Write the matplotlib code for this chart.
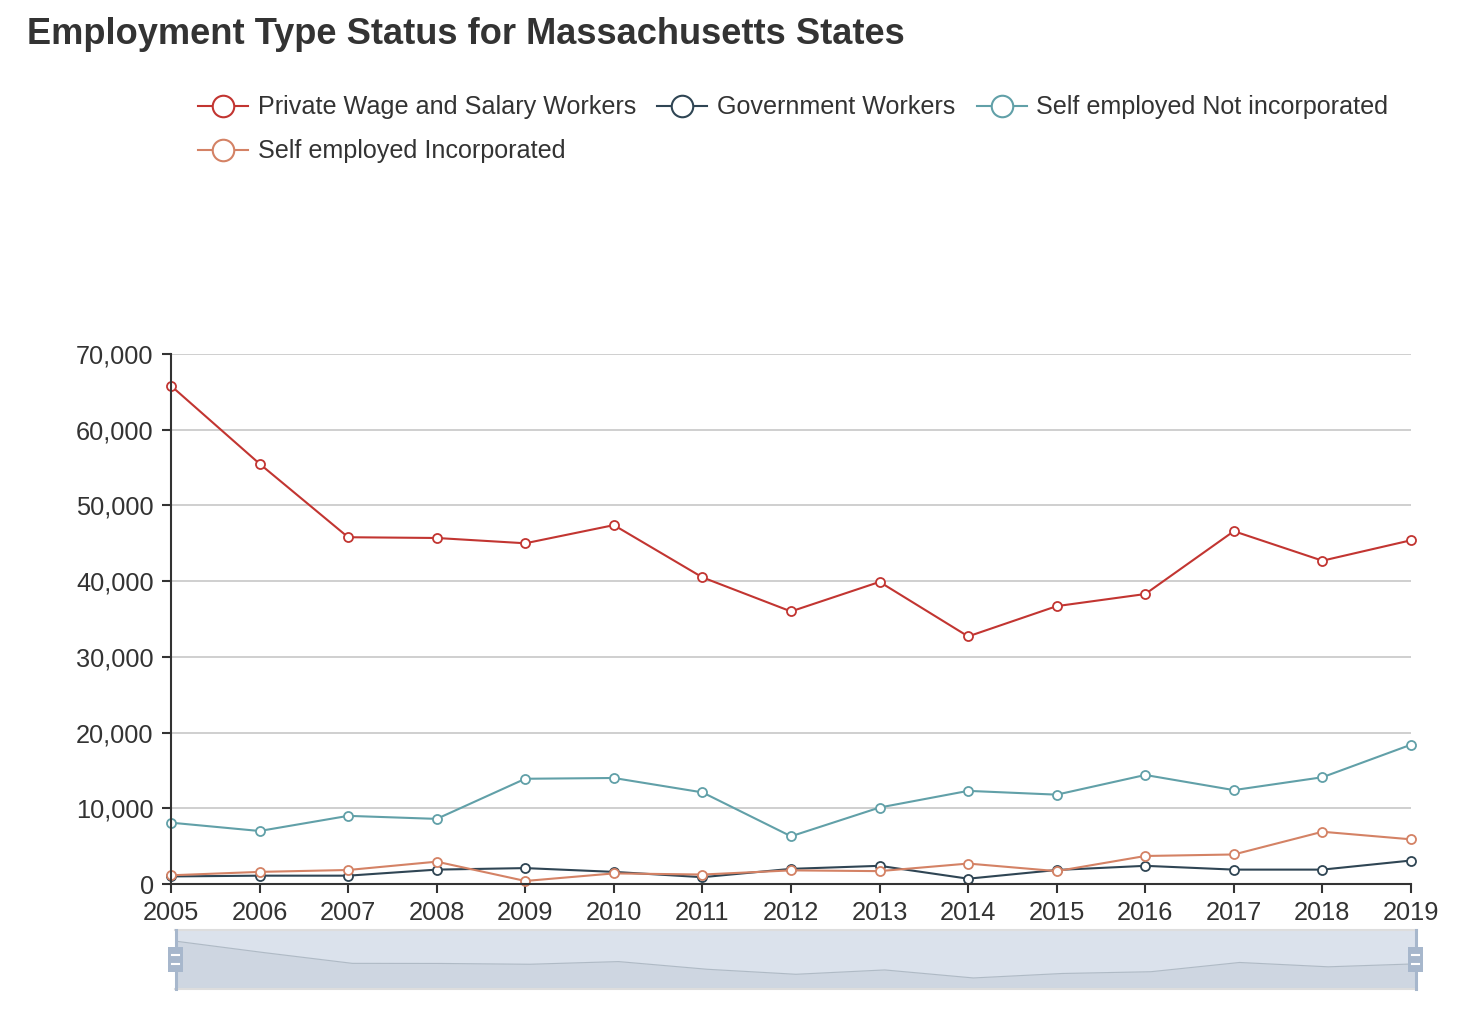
import matplotlib
matplotlib.use("Agg")
import matplotlib.pyplot as plt
from matplotlib.lines import Line2D
from matplotlib.patches import Rectangle
from matplotlib.ticker import FuncFormatter, MultipleLocator

plt.rcParams['font.family'] = ['Liberation Sans', 'DejaVu Sans']

years = [2005, 2006, 2007, 2008, 2009, 2010, 2011, 2012, 2013, 2014, 2015, 2016, 2017, 2018, 2019]
private_wage = [65800, 55500, 45800, 45700, 45000, 47400, 40500, 36000, 39900, 32700, 36700, 38300, 46600, 42700, 45400]
government = [1000, 1100, 1100, 1900, 2100, 1600, 900, 2000, 2400, 700, 1850, 2400, 1900, 1900, 3100]
self_not_inc = [8100, 7000, 9000, 8600, 13900, 14000, 12100, 6300, 10100, 12300, 11800, 14400, 12400, 14100, 18400]
self_inc = [1150, 1600, 1850, 2950, 400, 1400, 1250, 1800, 1700, 2700, 1700, 3700, 3900, 6900, 5900]

series_names = ["Private Wage and Salary Workers", "Government Workers",
                "Self employed Not incorporated", "Self employed Incorporated"]
series_data = [private_wage, government, self_not_inc, self_inc]
colors = ["#c23531", "#2f4554", "#61a0a8", "#d48265"]

W, H = 1476, 1018
fig = plt.figure(figsize=(W / 100, H / 100), dpi=100)

def fx(px):
    return px / W

def fy(py):
    return 1 - py / H

# main axes
ax = fig.add_axes([fx(171), fy(884), fx(1411) - fx(171), fy(354) - fy(884)])
for name, data, c in zip(series_names, series_data, colors):
    ax.plot(years, data, color=c, lw=1.5, marker='o', markersize=6.5,
            markerfacecolor='white', markeredgecolor=c, markeredgewidth=1.3,
            zorder=3, clip_on=False)

ax.set_xlim(years[0], years[-1])
ax.set_ylim(0, 70000)
ax.set_xticks(years)
ax.yaxis.set_major_locator(MultipleLocator(10000))
ax.yaxis.set_major_formatter(FuncFormatter(lambda v, p: f"{int(v):,}"))
ax.grid(axis='y', color='#cccccc', lw=1.3)
ax.set_axisbelow(True)
for s in ['top', 'right']:
    ax.spines[s].set_visible(False)
for s in ['left', 'bottom']:
    ax.spines[s].set_color('#333333')
    ax.spines[s].set_linewidth(1.5)
    ax.spines[s].set_zorder(4)
ax.tick_params(axis='both', colors='#333333', labelcolor='#333333', labelsize=18.3,
               length=6.5, width=1.5)
ax.tick_params(axis='y', pad=6)
ax.tick_params(axis='x', pad=6)

# data zoom slider
sx0, sx1, sy0, sy1 = 175, 1417, 930, 989
zax = fig.add_axes([fx(sx0), fy(sy1), fx(sx1) - fx(sx0), fy(sy0) - fy(sy1)])
zax.set_facecolor('#dbe2ec')
dmin, dmax = min(private_wage), max(private_wage)
off = (dmax - dmin) * 0.3
zax.set_ylim(dmin - off, dmax + off)
zax.set_xlim(years[0], years[-1])
zax.fill_between(years, dmin - off, private_wage, color='#2f4554', alpha=0.07, lw=0)
zax.plot(years, private_wage, color='#2f4554', alpha=0.25, lw=0.8)
zax.set_xticks([])
zax.set_yticks([])
for s in ['left', 'right']:
    zax.spines[s].set_visible(False)
for s in ['top', 'bottom']:
    zax.spines[s].set_color('#dddddd')
    zax.spines[s].set_linewidth(1.5)

# handles
for hx in (176, 1416):
    fig.add_artist(Line2D([fx(hx), fx(hx)], [fy(sy0), fy(sy1)], color='#a7b7cc', lw=2.2))
    fig.add_artist(Rectangle((fx(hx - 8), fy(972)), fx(15), fy(947) - fy(972),
                             facecolor='#a7b7cc', edgecolor='none', transform=fig.transFigure))
    for my in (955, 964):
        fig.add_artist(Line2D([fx(hx - 4), fx(hx + 3)], [fy(my), fy(my)], color='white', lw=1.5))

renderer = fig.canvas.get_renderer()

# title (size tuned so its width matches the reference)
title = fig.text(fx(27), fy(34), "Employment Type Status for Massachusetts States",
                 fontsize=24, fontweight='bold', color='#333333', ha='left', va='center')
tw = title.get_window_extent(renderer).width
title.set_fontsize(24 * 880 / tw)

# legend (manual, wrapping like the original)
x = 198
row_y = [106, 150]
row = 0
max_x = 1420
for name, c in zip(series_names, colors):
    t = fig.text(0, 0, name, fontsize=18.1, color='#333333', ha='left', va='center')
    tw = t.get_window_extent(renderer).width
    if x + 60 + tw > max_x:
        row += 1
        x = 198
    y = row_y[row]
    fig.add_artist(Line2D([fx(x), fx(x + 50)], [fy(y), fy(y)], color=c, lw=1.5))
    fig.add_artist(Line2D([fx(x + 25)], [fy(y)], marker='o', markersize=15.5,
                          markerfacecolor='white', markeredgecolor=c, markeredgewidth=1.5))
    t.set_position((fx(x + 60), fy(y + 1)))
    x = x + 60 + tw + 21

fig.savefig("out.png", dpi=100)
